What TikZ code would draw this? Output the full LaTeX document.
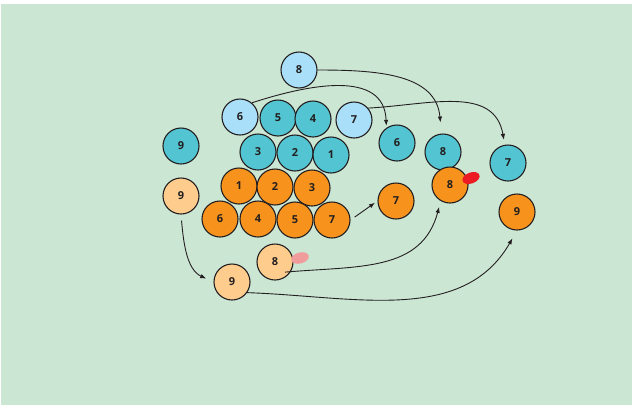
\documentclass[tikz,border=0pt]{standalone}
\usepackage{fontspec}
\setsansfont{Open Sans}
\usetikzlibrary{arrows.meta}
\definecolor{bgmint}{HTML}{CCE6D4}
\definecolor{ballteal}{HTML}{53C4D1}
\definecolor{ballsky}{HTML}{A9DFF8}
\definecolor{ballorange}{HTML}{F7931D}
\definecolor{ballpeach}{HTML}{FECD8D}
\definecolor{inkdark}{HTML}{231F20}
\definecolor{dropred}{HTML}{EC1C24}
\definecolor{droppink}{HTML}{F19C9C}

\begin{document}
\begin{tikzpicture}[
  x=1pt, y=-1pt,
  ball/.style={circle, draw=inkdark, line width=1.1pt, minimum size=36pt, inner sep=0pt, text=inkdark, font=\sffamily\bfseries\fontsize{11}{13}\selectfont},
  teal/.style={ball, fill=ballteal},
  sky/.style={ball, fill=ballsky},
  orng/.style={ball, fill=ballorange},
  peach/.style={ball, fill=ballpeach},
  move/.style={draw=inkdark, line width=0.9pt, -{Latex[length=6pt,width=4.5pt]}},
]
\fill[white] (0,0) rectangle (632,405);
\fill[bgmint] (1,4) rectangle (632,405);

% top group
\node[sky] (s8) at (299,70) {8};
\node[sky] (s6) at (240,117) {6};
\node[teal] (t5) at (278,118) {5};
\node[teal] (t4) at (313,119) {4};
\node[sky] (s7) at (354,120) {7};
\node[teal] (t3) at (258,152) {3};
\node[teal] (t2) at (295,153) {2};
\node[teal] (t1) at (331,155) {1};
\node[teal] (t9) at (181,146) {9};

% bottom group
\node[orng] (o1) at (239,186) {1};
\node[orng] (o2) at (275,187) {2};
\node[orng] (o3) at (312,188) {3};
\node[orng] (o6) at (220,219) {6};
\node[orng] (o4) at (258,219) {4};
\node[orng] (o5) at (295,220) {5};
\node[orng] (o7) at (332,220) {7};
\node[peach] (p9) at (181,196) {9};
\node[peach] (p8) at (275,262) {8};
\node[peach] (p9b) at (232,282) {9};

% moved balls
\node[teal] (m6) at (397,143) {6};
\node[teal] (m8) at (443,152) {8};
\node[teal] (m7) at (508,163) {7};
\node[orng] (n7) at (396,201) {7};
\node[orng] (n8) at (450,185) {8};
\node[orng] (n9) at (517,212) {9};

% drops
\fill[droppink, rotate around={15:(300,258)}] (300,258) ellipse (9pt and 5.5pt);
\fill[dropred, rotate around={20:(471,178)}] (471,178) ellipse (9pt and 5.5pt);

% moves
\draw[move, shorten >=11pt] (s8.east) to[out=0, in=95, looseness=1.1] (m8);
\draw[move, shorten >=2pt] (s6.50) to[out=18, in=92, looseness=1.1] (m6.125);
\draw[move, shorten >=5pt] (s7.40) to[out=3, in=100, looseness=1.1] (m7.100);
\draw[move, shorten <=5pt, shorten >=3pt] (o7.east) -- (n7.west);
\draw[move, shorten >=6pt] ([shift={(-3,-3)}]p8.south east) to[out=5, in=-105, looseness=1.1] (n8.240);
\draw[move, shorten <=6pt, shorten >=8pt] (p9.south) to[out=-85, in=155] (p9b.west);
\draw[move, shorten >=9pt] (p9b.-35) to[out=-2, in=-120, looseness=1.0] (n9.south);
\end{tikzpicture}
\end{document}
